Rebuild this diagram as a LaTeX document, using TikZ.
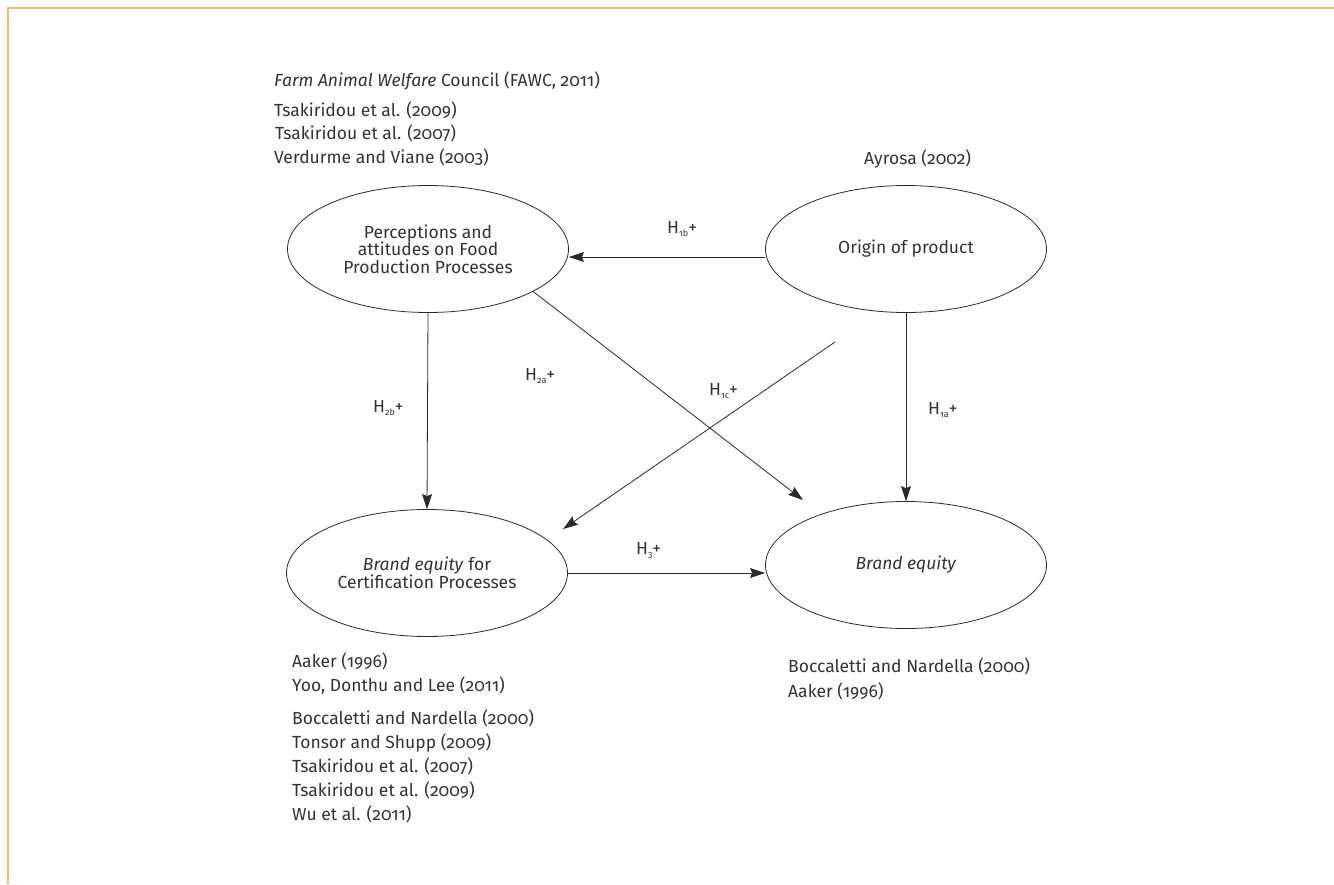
\documentclass[tikz,border=0pt]{standalone}
\usepackage{fontspec}
\setmainfont{Fira Sans}[Numbers=OldStyle]
\usetikzlibrary{arrows.meta,shapes.geometric}
\definecolor{frameor}{HTML}{E8C170}
\definecolor{ink}{HTML}{2A2A2A}
\definecolor{txt}{HTML}{333333}
\newcommand{\hyp}[1]{H\raisebox{-3.5pt}{\fontsize{9}{9}\selectfont #1}+}
\tikzset{
  ell/.style={draw=ink, line width=0.8pt, ellipse, minimum width=281pt, minimum height=127pt,
    inner sep=0pt, align=center, text=txt, font=\fontsize{17.5}{17.5}\selectfont},
  arr/.style={draw=ink, line width=0.8pt, -{Stealth[length=15pt,width=10pt,inset=2pt]}},
  plain/.style={draw=ink, line width=0.8pt},
  ref/.style={anchor=base west, inner sep=0pt, text=txt, font=\fontsize{17.5}{17.5}\selectfont},
  hlab/.style={anchor=base west, inner sep=0pt, text=txt, font=\fontsize{17.5}{17.5}\selectfont}
}
\begin{document}
\begin{tikzpicture}[x=1pt,y=-1pt]
\useasboundingbox (0,0) rectangle (1334,884);
\draw[frameor, line width=2pt] (8,884) -- (8,8) -- (1334,8);

% ellipses
\node[ell] (perc) at (428,249) {Perceptions and\\attitudes on Food\\Production Processes};
\node[ell] (origin) at (906,249) {Origin of product};
\node[ell] (cert) at (427,573) {\textit{Brand equity} for\\Certification Processes};
\node[ell] (be) at (906,565) {\textit{Brand equity}};

% references top
\node[ref] (r1) at (274,86) {\textit{Farm Animal Welfare} Council (FAWC, 2011)};
\node[ref] (r2) at (274,116) {Tsakiridou et al. (2009)};
\node[ref] (r3) at (275,139) {Tsakiridou et al. (2007)};
\node[ref] (r4) at (274,163) {Verdurme and Viane (2003)};
\node[ref] (r5) at (864,164) {Ayrosa (2002)};

% references bottom left
\node[ref] (b1) at (292,667) {Aaker (1996)};
\node[ref] (b2) at (292,691) {Yoo, Donthu and Lee (2011)};
\node[ref] (b3) at (292,724) {Boccaletti and Nardella (2000)};
\node[ref] (b4) at (292,748) {Tonsor and Shupp (2009)};
\node[ref] (b5) at (292,772) {Tsakiridou et al. (2007)};
\node[ref] (b6) at (292,796) {Tsakiridou et al. (2009)};
\node[ref] (b7) at (292,820) {Wu et al. (2011)};

% references bottom right
\node[ref] (c1) at (788,672) {Boccaletti and Nardella (2000)};
\node[ref] (c2) at (788,697) {Aaker (1996)};

% connectors
\coordinate (d1end) at (803,500);
\coordinate (d2start) at (835,342);
\coordinate (d2end) at (563,529);
\draw[arr] ([yshift=-8pt]origin.west) -- ([yshift=-8pt]perc.east);
\draw[arr] (perc.south) -- (cert.north);
\draw[arr] (origin.south) -- (be.north);
\draw[arr] (cert.east) -- (cert.east -| be.west);
\draw[arr] (perc.-22.5) -- (d1end);
\draw[arr] (d2start) -- (d2end);

% hypothesis labels
\node[hlab] (h1b) at (667,233) {\hyp{1b}};
\node[hlab] (h2b) at (373,412) {\hyp{2b}};
\node[hlab] (h2a) at (525,380) {\hyp{2a}};
\node[hlab] (h1c) at (709,395) {\hyp{1c}};
\node[hlab] (h1a) at (928,414) {\hyp{1a}};
\node[hlab] (h3) at (636,554) {\hyp{3}};
\end{tikzpicture}
\end{document}
